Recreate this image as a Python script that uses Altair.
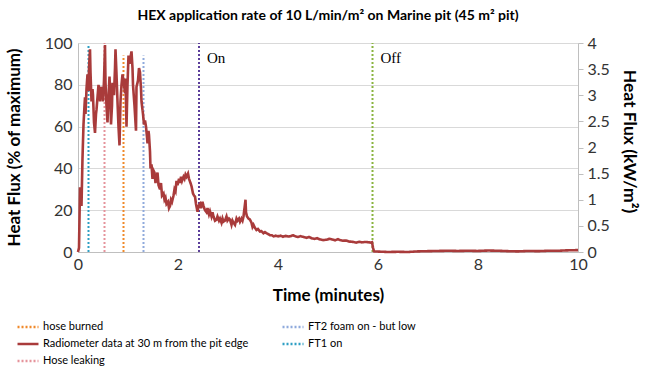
import altair as alt
import pandas as pd

# Radiometer trace (minutes, % of maximum)
time = [0.00, 0.02, 0.04, 0.06, 0.07, 0.09, 0.11, 0.13, 0.14, 0.15, 0.17, 0.19, 0.21, 0.22, 0.24, 0.25,
        0.27, 0.29, 0.30, 0.32, 0.34, 0.36, 0.37, 0.39, 0.41, 0.43, 0.44, 0.46, 0.47, 0.49, 0.50, 0.52,
        0.54, 0.55, 0.57, 0.59, 0.61, 0.63, 0.65, 0.66, 0.68, 0.69, 0.71, 0.72, 0.74, 0.75, 0.77, 0.79,
        0.81, 0.83, 0.85, 0.87, 0.89, 0.91, 0.92, 0.94, 0.95, 0.97, 0.99, 1.01, 1.03, 1.05, 1.07, 1.09,
        1.10, 1.13, 1.16, 1.17, 1.20, 1.22, 1.24, 1.26, 1.27, 1.30, 1.32, 1.34, 1.36, 1.38, 1.39, 1.41,
        1.42, 1.44, 1.45, 1.47, 1.49, 1.51, 1.53, 1.55, 1.57, 1.59, 1.61, 1.64, 1.66, 1.68, 1.71, 1.73,
        1.75, 1.77, 1.80, 1.82, 1.84, 1.86, 1.88, 1.91, 1.93, 1.95, 1.97, 1.99, 2.02, 2.04, 2.06, 2.08,
        2.11, 2.13, 2.15, 2.17, 2.20, 2.22, 2.25, 2.27, 2.30, 2.32, 2.34, 2.36, 2.39, 2.41, 2.44, 2.46,
        2.49, 2.51, 2.54, 2.57, 2.59, 2.62, 2.64, 2.67, 2.69, 2.71, 2.74, 2.77, 2.79, 2.82, 2.84, 2.87,
        2.89, 2.91, 2.94, 2.97, 2.99, 3.02, 3.04, 3.07, 3.09, 3.11, 3.14, 3.17, 3.19, 3.22, 3.24, 3.27,
        3.29, 3.31, 3.33, 3.35, 3.36, 3.38, 3.41, 3.44, 3.47, 3.49, 3.51, 3.54, 3.57, 3.60, 3.64, 3.67,
        3.71, 3.74, 3.77, 3.81, 3.84, 3.88, 3.91, 3.95, 4.00, 4.05, 4.10, 4.15, 4.20, 4.24, 4.30, 4.35,
        4.40, 4.45, 4.50, 4.57, 4.62, 4.68, 4.73, 4.78, 4.84, 4.91, 4.97, 5.03, 5.08, 5.14, 5.20, 5.24,
        5.30, 5.36, 5.42, 5.48, 5.53, 5.57, 5.63, 5.68, 5.74, 5.80, 5.85, 5.88, 5.90, 5.92, 6.00, 6.20,
        6.40, 6.60, 6.80, 7.00, 7.20, 7.40, 7.60, 7.80, 8.00, 8.20, 8.40, 8.60, 8.80, 9.00, 9.20, 9.40,
        9.60, 9.80, 10.00]
flux = [0, 2, 31, 29, 22, 45, 61, 70, 74, 66, 78, 85, 77, 88, 97, 86,
        72, 78, 75, 62, 57, 66, 68, 74, 80, 76, 72, 78, 79, 75, 72, 82,
        99, 81, 70, 62, 74, 84, 72, 61, 70, 81, 78, 75, 88, 97, 85, 72,
        60, 51, 72, 80, 85, 82, 80, 76, 83, 60, 80, 94, 90, 93, 96, 88,
        80, 70, 58, 79, 82, 88, 86, 78, 72, 66, 61, 63, 60, 55, 52, 58,
        56, 48, 40, 42, 35, 39, 38, 33, 36, 38, 32, 30, 33, 27, 28, 25,
        26, 23, 24, 21, 22, 25, 24, 27, 30, 29, 34, 32, 35, 33, 36, 34,
        36, 35, 37, 36, 37.5, 35, 33, 31.5, 28, 27, 26.5, 23, 19.3, 22, 23, 21,
        24, 22, 20, 19, 21, 18, 19.5, 17, 19, 17, 15, 15.5, 17, 15, 16, 14,
        16, 14.5, 15, 17, 15, 16, 15.5, 13, 15, 14, 13, 16, 15, 16, 14.5, 16,
        15, 17, 21, 25, 19, 17, 16, 15.5, 14, 12, 13, 11.5, 10.5, 11, 9.8, 10,
        9, 9.5, 9, 8.5, 8, 8, 7.5, 7.8, 7.5, 7.8, 7.3, 7.7, 7.4, 7.5, 8, 7.5,
        7.2, 7.6, 7.3, 6.8, 7.2, 6.5, 6.3, 6.6, 6.0, 5.7, 5.9, 6.3, 6.0, 5.6, 6.1, 5.7,
        5.4, 5.5, 5.0, 4.9, 4.7, 4.5, 4.9, 4.6, 4.8, 4.7, 4.5, 4.7, 2, 0.3, 0.2, 0.0,
        0.1, 0.0, 0.3, 0.4, 0.5, 0.6, 0.5, 0.6, 0.5, 0.7, 0.6, 0.4, 0.3, 0.5, 0.4, 0.6,
        0.6, 0.8, 0.9]
line_name = "Radiometer data at 30 m from the pit edge"

# Event markers shown in legend
event_names = ["FT1 on", "Hose leaking", "hose burned", "FT2 foam on - but low"]
event_time = [0.21, 0.53, 0.91, 1.31]
event_top = [99, 100, 94, 94]

# Foam on/off markers (labelled in plot)
marker_names = ["On", "Off"]
marker_time = [2.42, 5.89]
marker_top = [100, 100]
marker_colors = ["#5B3E9A", "#8AB43F"]

legend_order = ["hose burned", line_name, "Hose leaking", "FT2 foam on - but low", "FT1 on"]
legend_colors = ["#F0892A", "#A93B3B", "#E5939B", "#8FAADC", "#2E9FC4"]
legend_dash = [[2, 2], [1, 0], [2, 2], [2, 2], [2, 2]]

FONT = "Lato"

line_df = pd.DataFrame({"t": time, "v": flux})
line_df["series"] = line_name
line_df["kw"] = line_df["v"] * 0.04

ev_df = pd.DataFrame({"series": event_names, "t": event_time, "top": event_top})
ev_df["y0"] = 0

x_scale = alt.Scale(domain=[0, 10], nice=False, zero=True)
y_scale = alt.Scale(domain=[0, 100], nice=False)
color_scale = alt.Scale(domain=legend_order, range=legend_colors)
dash_scale = alt.Scale(domain=legend_order, range=legend_dash)

x_axis = alt.Axis(values=[0, 2, 4, 6, 8, 10], ticks=False, grid=False, labelFontSize=16, labelFont=FONT,
                  labelColor="#333333", labelPadding=4, labelFlush=False, domainColor="#bfbfbf",
                  title="Time (minutes)", titleFont=FONT, titleFontSize=17, titleFontWeight="bold",
                  titleColor="#000000", titleX=250, titleY=43, titleBaseline="middle")
y_axis = alt.Axis(values=[0, 20, 40, 60, 80, 100], ticks=False, grid=True, gridColor="#d9d9d9",
                  labelFontSize=16, labelFont=FONT, labelColor="#333333", labelPadding=6,
                  domainColor="#bfbfbf", title="Heat Flux (% of maximum)", titleFont=FONT,
                  titleFontSize=17, titleFontWeight="bold", titleColor="#000000", titleAngle=270,
                  titleX=-64, titleY=104, titleAlign="center", titleBaseline="middle")

legend = alt.Legend(title=None, orient="none", legendX=-62, legendY=272, columns=2, columnPadding=28,
                    rowPadding=0, labelFontSize=11, labelFont=FONT, labelColor="#000000", labelLimit=400,
                    symbolType="stroke", symbolSize=440, symbolStrokeWidth=2.5, labelOffset=3)

rules = alt.Chart(ev_df).mark_rule(strokeWidth=2).encode(
    x=alt.X("t:Q", scale=x_scale, axis=x_axis),
    y=alt.Y("y0:Q", scale=y_scale, axis=y_axis),
    y2="top:Q",
    color=alt.Color("series:N", scale=color_scale, legend=legend, sort=legend_order),
    strokeDash=alt.StrokeDash("series:N", scale=dash_scale, legend=legend, sort=legend_order),
)

marker_layers = []
for name, tt, top, col in zip(marker_names, marker_time, marker_top, marker_colors):
    mdf = pd.DataFrame({"name": [name], "t": [tt], "top": [top], "y0": [0], "ty": [93]})
    marker_layers.append(
        alt.Chart(mdf).mark_rule(strokeWidth=2, strokeDash=[2, 2], color=col).encode(
            x=alt.X("t:Q", scale=x_scale), y=alt.Y("y0:Q", scale=y_scale), y2="top:Q"))
    marker_layers.append(
        alt.Chart(mdf).mark_text(align="left", baseline="middle", dx=8, font="Liberation Serif",
                                 fontSize=15, color="#000000").encode(
            x=alt.X("t:Q", scale=x_scale), y=alt.Y("ty:Q", scale=y_scale), text="name:N"))

line = alt.Chart(line_df).mark_line(strokeWidth=2.6).encode(
    x=alt.X("t:Q", scale=x_scale),
    y=alt.Y("v:Q", scale=y_scale),
    color=alt.Color("series:N", scale=color_scale, legend=legend, sort=legend_order),
    strokeDash=alt.StrokeDash("series:N", scale=dash_scale, legend=legend, sort=legend_order),
)

main = alt.layer(rules, *marker_layers, line)

right = alt.Chart(line_df).mark_line(opacity=0).encode(
    x=alt.X("t:Q", scale=x_scale),
    y=alt.Y("kw:Q", scale=alt.Scale(domain=[0, 4], nice=False),
            axis=alt.Axis(orient="right", values=[0, 0.5, 1, 1.5, 2, 2.5, 3, 3.5, 4], format="~g",
                          ticks=True, tickSize=5, tickColor="#bfbfbf", grid=False, labelFontSize=16,
                          labelFont=FONT, labelColor="#333333", labelPadding=4, domainColor="#bfbfbf",
                          title="Heat Flux (kW/m²)", titleFont=FONT, titleFontSize=17.5,
                          titleFontWeight="bold", titleColor="#000000", titleAngle=90,
                          titleX=50, titleY=98, titleAlign="center", titleBaseline="middle")),
)

chart = alt.layer(main, right).resolve_scale(y="independent").properties(
    width=500, height=209,
    autosize=alt.AutoSizeParams(type="none"),
    padding={"left": 78, "top": 43, "right": 78, "bottom": 124},
    title=alt.TitleParams(text="HEX application rate of 10 L/min/m² on Marine pit (45 m² pit)",
                          font=FONT, fontSize=14, fontWeight="bold", color="#000000",
                          anchor="middle", offset=12),
).configure_view(strokeWidth=0).configure(background="white")

chart.save("out.html", embed_options={"renderer": "svg", "actions": False})
